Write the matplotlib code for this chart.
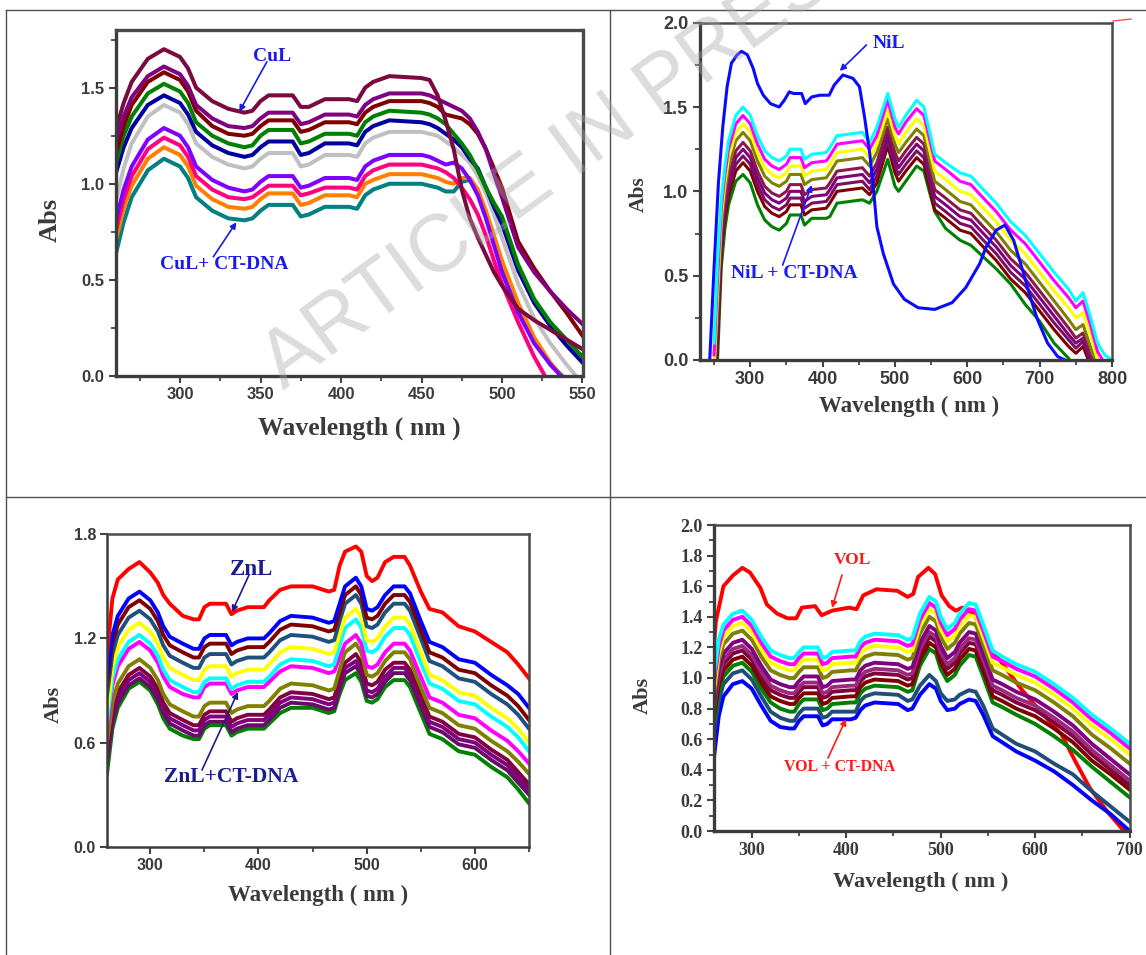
import matplotlib
matplotlib.use("Agg")
import matplotlib.pyplot as plt
from matplotlib.lines import Line2D
from matplotlib.ticker import MultipleLocator, FormatStrFormatter

W, H = 1146, 955
SERIF = ["Liberation Serif", "DejaVu Serif"]
SANS = ["Liberation Sans", "DejaVu Sans"]

# ---------------- CuL panel (top left) ----------------
wl_cu = [260, 265, 270, 280, 290, 300, 305, 310, 320, 330,
         340, 345, 350, 355, 370, 375, 380, 390, 405, 410,
         415, 420, 430, 450, 455, 460, 465, 470, 475, 480,
         485, 490, 495, 500, 510, 520, 530, 540, 550]
cu_free = [1.28, 1.42, 1.53, 1.65, 1.70, 1.66, 1.60, 1.50, 1.43, 1.39,
           1.37, 1.38, 1.43, 1.46, 1.46, 1.40, 1.40, 1.44, 1.44, 1.43,
           1.50, 1.53, 1.56, 1.55, 1.54, 1.46, 1.33, 1.18, 0.97, 0.82,
           0.72, 0.63, 0.54, 0.47, 0.35, 0.29, 0.24, 0.19, 0.14]
cu_purple = [1.22, 1.35, 1.45, 1.56, 1.61, 1.57, 1.51, 1.41, 1.34, 1.30,
             1.29, 1.30, 1.34, 1.37, 1.37, 1.31, 1.32, 1.36, 1.36, 1.35,
             1.41, 1.44, 1.47, 1.47, 1.46, 1.44, 1.42, 1.40, 1.38, 1.34,
             1.27, 1.18, 1.05, 0.93, 0.67, 0.54, 0.44, 0.35, 0.27]
cu_darkred = [1.15, 1.30, 1.41, 1.53, 1.58, 1.54, 1.48, 1.38, 1.30, 1.26,
              1.25, 1.26, 1.30, 1.33, 1.33, 1.27, 1.28, 1.32, 1.32, 1.31,
              1.37, 1.40, 1.43, 1.43, 1.42, 1.40, 1.36, 1.35, 1.34, 1.31,
              1.26, 1.18, 1.08, 0.98, 0.70, 0.56, 0.44, 0.33, 0.21]
cu_green = [1.10, 1.25, 1.35, 1.47, 1.52, 1.48, 1.42, 1.32, 1.25, 1.21,
            1.19, 1.20, 1.25, 1.28, 1.28, 1.21, 1.22, 1.26, 1.26, 1.25,
            1.32, 1.35, 1.38, 1.37, 1.36, 1.34, 1.31, 1.26, 1.21, 1.15,
            1.07, 0.98, 0.90, 0.83, 0.58, 0.40, 0.28, 0.19, 0.10]
cu_navy = [1.05, 1.19, 1.29, 1.41, 1.46, 1.42, 1.36, 1.27, 1.20, 1.16,
           1.14, 1.15, 1.19, 1.22, 1.22, 1.15, 1.16, 1.21, 1.21, 1.20,
           1.27, 1.30, 1.33, 1.32, 1.31, 1.29, 1.26, 1.23, 1.19, 1.13,
           1.08, 0.98, 0.88, 0.79, 0.55, 0.38, 0.26, 0.16, 0.07]
cu_gray = [0.90, 1.08, 1.21, 1.35, 1.41, 1.37, 1.31, 1.21, 1.14, 1.10,
           1.08, 1.09, 1.13, 1.16, 1.16, 1.09, 1.10, 1.15, 1.15, 1.14,
           1.21, 1.24, 1.27, 1.27, 1.26, 1.25, 1.22, 1.19, 1.15, 1.11,
           1.04, 0.95, 0.84, 0.72, 0.48, 0.30, 0.17, 0.06, -0.04]
cu_violet = [0.80, 0.97, 1.09, 1.23, 1.29, 1.25, 1.19, 1.09, 1.02, 0.98,
             0.96, 0.97, 1.01, 1.04, 1.04, 0.98, 0.99, 1.03, 1.03, 1.02,
             1.09, 1.12, 1.15, 1.15, 1.14, 1.12, 1.10, 1.11, 1.08, 1.02,
             0.94, 0.82, 0.68, 0.54, 0.33, 0.17, 0.06, -0.03, -0.12]
cu_pink = [0.75, 0.92, 1.04, 1.18, 1.24, 1.20, 1.14, 1.04, 0.97, 0.93,
           0.92, 0.93, 0.96, 0.99, 0.99, 0.94, 0.95, 0.98, 0.98, 0.97,
           1.04, 1.07, 1.10, 1.10, 1.09, 1.08, 1.06, 1.03, 0.98, 0.92,
           0.84, 0.73, 0.60, 0.48, 0.28, 0.10, -0.05, -0.15, -0.25]
cu_orange = [0.70, 0.87, 0.99, 1.13, 1.19, 1.15, 1.09, 0.99, 0.92, 0.88,
             0.87, 0.88, 0.92, 0.95, 0.95, 0.89, 0.90, 0.94, 0.94, 0.93,
             1.00, 1.02, 1.05, 1.05, 1.04, 1.03, 1.01, 1.00, 1.03, 1.03,
             0.97, 0.86, 0.73, 0.60, 0.38, 0.20, 0.07, -0.03, -0.12]
cu_teal = [0.63, 0.80, 0.93, 1.07, 1.13, 1.09, 1.03, 0.93, 0.86, 0.82,
           0.81, 0.82, 0.86, 0.89, 0.89, 0.83, 0.84, 0.88, 0.88, 0.87,
           0.94, 0.97, 1.00, 1.00, 0.99, 0.98, 0.96, 0.96, 1.01, 1.02,
           0.95, 0.84, 0.72, 0.59, 0.37, 0.19, 0.06, -0.02, -0.12]

# ---------------- NiL panel (top right) ----------------
wl_nil = [244, 250, 256, 262, 268, 274, 282, 288, 296, 304,
          310, 318, 328, 340, 347, 354, 360, 371, 376, 385,
          396, 409, 416, 428, 442, 451, 458, 465, 470, 475,
          484, 498, 513, 532, 555, 579, 598, 617, 626, 640,
          652, 664, 678, 688, 697, 711, 725, 735]
ni_free = [0.00, 0.55, 1.05, 1.38, 1.62, 1.76, 1.81, 1.83, 1.81, 1.73,
           1.64, 1.57, 1.52, 1.50, 1.54, 1.59, 1.58, 1.58, 1.52, 1.56,
           1.57, 1.57, 1.63, 1.69, 1.67, 1.62, 1.44, 1.23, 1.03, 0.79,
           0.63, 0.45, 0.36, 0.31, 0.30, 0.34, 0.43, 0.57, 0.67, 0.77,
           0.80, 0.71, 0.51, 0.36, 0.24, 0.10, 0.02, 0.00]
wl_ni = [250, 255, 260, 265, 270, 280, 290, 300, 310, 320,
         330, 340, 350, 355, 370, 375, 385, 405, 410, 420,
         455, 465, 475, 490, 500, 505, 515, 530, 540, 555,
         570, 590, 605, 620, 640, 660, 680, 700, 720, 740,
         750, 760, 770, 780, 790, 800]
ni_cyan = [0.10, 0.60, 0.95, 1.15, 1.30, 1.45, 1.50, 1.45, 1.33, 1.24,
           1.20, 1.18, 1.21, 1.25, 1.25, 1.19, 1.22, 1.23, 1.26, 1.33,
           1.35, 1.29, 1.38, 1.58, 1.43, 1.38, 1.45, 1.54, 1.50, 1.22,
           1.17, 1.11, 1.09, 1.02, 0.93, 0.82, 0.74, 0.63, 0.52, 0.42,
           0.35, 0.40, 0.26, 0.10, 0.03, 0.00]
ni_magenta = [0.03, 0.50, 0.90, 1.10, 1.25, 1.40, 1.45, 1.40, 1.28, 1.19,
              1.15, 1.13, 1.16, 1.20, 1.20, 1.14, 1.17, 1.18, 1.21, 1.28,
              1.30, 1.25, 1.33, 1.54, 1.38, 1.34, 1.41, 1.49, 1.45, 1.18,
              1.13, 1.06, 1.04, 0.97, 0.88, 0.77, 0.69, 0.58, 0.47, 0.37,
              0.31, 0.35, 0.21, 0.05, -0.02, -0.05]
ni_yellow = [-0.05, 0.42, 0.85, 1.05, 1.20, 1.35, 1.40, 1.35, 1.23, 1.14,
             1.10, 1.08, 1.11, 1.15, 1.15, 1.09, 1.12, 1.13, 1.16, 1.23,
             1.25, 1.20, 1.28, 1.48, 1.33, 1.28, 1.35, 1.43, 1.39, 1.12,
             1.07, 1.00, 0.98, 0.91, 0.82, 0.71, 0.63, 0.52, 0.41, 0.31,
             0.25, 0.28, 0.15, 0.00, -0.05, -0.10]
ni_olive = [-0.10, 0.35, 0.80, 1.00, 1.15, 1.30, 1.35, 1.30, 1.18, 1.09,
            1.05, 1.03, 1.06, 1.10, 1.10, 1.04, 1.07, 1.08, 1.11, 1.18,
            1.20, 1.15, 1.23, 1.43, 1.28, 1.23, 1.29, 1.37, 1.33, 1.06,
            1.01, 0.94, 0.92, 0.85, 0.76, 0.65, 0.57, 0.46, 0.35, 0.24,
            0.18, 0.21, 0.08, -0.03, -0.08, -0.12]
ni_maroon = [-0.15, 0.28, 0.75, 0.95, 1.09, 1.24, 1.29, 1.24, 1.12, 1.03,
             0.99, 0.97, 1.00, 1.04, 1.04, 0.98, 1.01, 1.02, 1.05, 1.12,
             1.14, 1.09, 1.17, 1.38, 1.23, 1.18, 1.24, 1.32, 1.28, 1.01,
             0.96, 0.89, 0.87, 0.80, 0.71, 0.60, 0.52, 0.41, 0.30, 0.19,
             0.13, 0.16, 0.03, -0.05, -0.10, -0.14]
ni_purple = [-0.20, 0.22, 0.72, 0.92, 1.05, 1.20, 1.25, 1.20, 1.08, 0.99,
             0.95, 0.93, 0.96, 1.00, 1.00, 0.94, 0.97, 0.98, 1.01, 1.08,
             1.10, 1.05, 1.13, 1.34, 1.19, 1.14, 1.20, 1.28, 1.24, 0.97,
             0.92, 0.85, 0.83, 0.76, 0.67, 0.56, 0.48, 0.37, 0.26, 0.15,
             0.10, 0.13, 0.01, -0.06, -0.11, -0.15]
ni_plum = [-0.25, 0.18, 0.68, 0.88, 1.01, 1.16, 1.21, 1.16, 1.04, 0.95,
           0.91, 0.89, 0.92, 0.96, 0.96, 0.90, 0.93, 0.94, 0.97, 1.04,
           1.06, 1.01, 1.09, 1.30, 1.15, 1.10, 1.16, 1.24, 1.20, 0.93,
           0.88, 0.81, 0.79, 0.72, 0.63, 0.52, 0.44, 0.33, 0.22, 0.12,
           0.07, 0.11, -0.01, -0.08, -0.12, -0.16]
ni_darkred = [-0.30, 0.12, 0.64, 0.84, 0.97, 1.12, 1.17, 1.12, 1.00, 0.91,
              0.87, 0.85, 0.88, 0.92, 0.92, 0.86, 0.89, 0.90, 0.93, 1.00,
              1.02, 0.98, 1.05, 1.27, 1.11, 1.06, 1.12, 1.20, 1.16, 0.89,
              0.84, 0.77, 0.75, 0.68, 0.59, 0.48, 0.40, 0.29, 0.18, 0.08,
              0.04, 0.08, -0.03, -0.10, -0.14, -0.18]
ni_green = [-0.40, 0.02, 0.55, 0.78, 0.92, 1.06, 1.10, 1.05, 0.92, 0.83,
            0.79, 0.77, 0.81, 0.86, 0.86, 0.80, 0.84, 0.84, 0.85, 0.93,
            0.95, 0.93, 1.00, 1.19, 1.03, 1.00, 1.06, 1.15, 1.12, 0.88,
            0.78, 0.71, 0.68, 0.62, 0.54, 0.45, 0.33, 0.23, 0.10, 0.01,
            -0.05, -0.08, -0.12, -0.15, -0.18, -0.20]

# ---------------- ZnL panel (bottom left) ----------------
wl_zn = [260, 265, 270, 280, 290, 300, 307, 312, 318, 330,
         340, 345, 350, 355, 370, 375, 380, 390, 405, 410,
         420, 430, 450, 465, 470, 475, 480, 490, 495, 500,
         505, 510, 517, 525, 535, 540, 550, 558, 570, 585,
         600, 615, 630, 640, 650]
zn_free = [1.10, 1.43, 1.54, 1.60, 1.64, 1.58, 1.52, 1.45, 1.40, 1.33,
           1.31, 1.31, 1.38, 1.40, 1.40, 1.34, 1.36, 1.38, 1.38, 1.42,
           1.48, 1.50, 1.50, 1.47, 1.48, 1.62, 1.70, 1.73, 1.70, 1.56,
           1.53, 1.55, 1.64, 1.67, 1.67, 1.62, 1.47, 1.37, 1.35, 1.27,
           1.24, 1.18, 1.12, 1.05, 0.97]
zn_blue = [0.98, 1.22, 1.33, 1.43, 1.47, 1.42, 1.35, 1.27, 1.21, 1.17,
           1.14, 1.14, 1.20, 1.22, 1.22, 1.16, 1.18, 1.20, 1.20, 1.23,
           1.30, 1.33, 1.32, 1.29, 1.30, 1.40, 1.50, 1.55, 1.50, 1.37,
           1.36, 1.38, 1.45, 1.50, 1.50, 1.46, 1.30, 1.18, 1.15, 1.08,
           1.06, 0.99, 0.93, 0.88, 0.80]
zn_darkred = [0.93, 1.17, 1.28, 1.38, 1.42, 1.37, 1.30, 1.22, 1.16, 1.12,
              1.09, 1.09, 1.15, 1.17, 1.17, 1.11, 1.13, 1.15, 1.15, 1.18,
              1.25, 1.28, 1.27, 1.24, 1.25, 1.35, 1.45, 1.50, 1.45, 1.32,
              1.31, 1.33, 1.40, 1.45, 1.45, 1.41, 1.25, 1.12, 1.09, 1.02,
              1.00, 0.93, 0.87, 0.81, 0.73]
zn_steel = [0.87, 1.11, 1.22, 1.32, 1.36, 1.31, 1.24, 1.16, 1.10, 1.06,
            1.03, 1.03, 1.09, 1.11, 1.11, 1.05, 1.07, 1.09, 1.09, 1.12,
            1.19, 1.22, 1.21, 1.18, 1.19, 1.30, 1.40, 1.45, 1.40, 1.27,
            1.26, 1.28, 1.35, 1.40, 1.40, 1.36, 1.20, 1.07, 1.04, 0.97,
            0.95, 0.88, 0.82, 0.76, 0.68]
zn_yellow = [0.78, 1.03, 1.15, 1.25, 1.29, 1.24, 1.17, 1.09, 1.03, 0.99,
             0.96, 0.96, 1.02, 1.04, 1.04, 0.98, 1.00, 1.02, 1.02, 1.05,
             1.12, 1.15, 1.14, 1.11, 1.12, 1.22, 1.32, 1.37, 1.32, 1.19,
             1.18, 1.20, 1.27, 1.32, 1.32, 1.28, 1.12, 0.99, 0.96, 0.89,
             0.87, 0.80, 0.74, 0.68, 0.60]
zn_cyan = [0.72, 0.97, 1.08, 1.18, 1.22, 1.17, 1.10, 1.02, 0.96, 0.92,
           0.89, 0.89, 0.95, 0.97, 0.97, 0.91, 0.93, 0.95, 0.95, 0.98,
           1.05, 1.08, 1.07, 1.04, 1.05, 1.16, 1.26, 1.31, 1.26, 1.13,
           1.12, 1.14, 1.21, 1.26, 1.26, 1.22, 1.06, 0.94, 0.91, 0.84,
           0.82, 0.75, 0.69, 0.63, 0.55]
zn_magenta = [0.68, 0.93, 1.04, 1.14, 1.18, 1.13, 1.06, 0.98, 0.92, 0.88,
              0.86, 0.86, 0.92, 0.94, 0.94, 0.88, 0.90, 0.92, 0.92, 0.95,
              1.01, 1.04, 1.03, 1.00, 1.01, 1.09, 1.17, 1.22, 1.17, 1.04,
              1.03, 1.05, 1.12, 1.17, 1.17, 1.13, 0.98, 0.86, 0.83, 0.76,
              0.74, 0.67, 0.61, 0.55, 0.48]
zn_olive = [0.60, 0.83, 0.94, 1.04, 1.08, 1.03, 0.96, 0.88, 0.82, 0.78,
            0.75, 0.75, 0.81, 0.83, 0.83, 0.77, 0.79, 0.81, 0.81, 0.84,
            0.91, 0.94, 0.93, 0.90, 0.91, 1.02, 1.12, 1.17, 1.12, 0.99,
            0.98, 1.00, 1.07, 1.12, 1.12, 1.08, 0.92, 0.80, 0.77, 0.70,
            0.68, 0.61, 0.55, 0.49, 0.42]
zn_maroon = [0.55, 0.78, 0.89, 0.99, 1.03, 0.98, 0.91, 0.83, 0.77, 0.73,
             0.70, 0.70, 0.76, 0.78, 0.78, 0.72, 0.74, 0.76, 0.76, 0.79,
             0.86, 0.89, 0.88, 0.85, 0.86, 0.97, 1.06, 1.11, 1.06, 0.94,
             0.93, 0.95, 1.02, 1.06, 1.06, 1.02, 0.87, 0.75, 0.72, 0.65,
             0.63, 0.56, 0.50, 0.43, 0.36]
zn_purple = [0.52, 0.75, 0.86, 0.96, 1.00, 0.95, 0.88, 0.80, 0.74, 0.70,
             0.67, 0.67, 0.73, 0.75, 0.75, 0.69, 0.71, 0.73, 0.73, 0.76,
             0.83, 0.86, 0.85, 0.82, 0.83, 0.94, 1.03, 1.07, 1.02, 0.90,
             0.89, 0.91, 0.98, 1.03, 1.03, 0.99, 0.84, 0.72, 0.69, 0.62,
             0.60, 0.53, 0.47, 0.40, 0.33]
zn_plum = [0.49, 0.72, 0.83, 0.93, 0.97, 0.92, 0.85, 0.77, 0.71, 0.67,
           0.64, 0.64, 0.70, 0.72, 0.72, 0.66, 0.68, 0.70, 0.70, 0.73,
           0.80, 0.83, 0.82, 0.79, 0.80, 0.91, 1.00, 1.04, 0.99, 0.87,
           0.86, 0.88, 0.95, 1.00, 1.00, 0.96, 0.81, 0.69, 0.66, 0.59,
           0.57, 0.50, 0.44, 0.37, 0.30]
zn_green = [0.42, 0.68, 0.80, 0.91, 0.95, 0.90, 0.82, 0.74, 0.68, 0.64,
            0.62, 0.62, 0.68, 0.70, 0.70, 0.64, 0.66, 0.68, 0.68, 0.71,
            0.77, 0.80, 0.80, 0.77, 0.78, 0.88, 0.96, 1.00, 0.95, 0.84,
            0.83, 0.85, 0.92, 0.96, 0.96, 0.92, 0.77, 0.65, 0.62, 0.55,
            0.53, 0.46, 0.40, 0.33, 0.25]

# ---------------- VOL panel (bottom right) ----------------
wl_vol = [260, 262, 270, 280, 290, 298, 309, 316, 327, 338,
          347, 353, 367, 374, 385, 403, 411, 418, 432, 454,
          465, 471, 476, 487, 494, 501, 509, 516, 523, 535,
          550, 567, 585, 603, 628, 643, 658, 676, 694, 700]
vo_free = [1.22, 1.37, 1.60, 1.67, 1.72, 1.69, 1.59, 1.48, 1.42, 1.39,
           1.39, 1.46, 1.47, 1.41, 1.44, 1.46, 1.45, 1.54, 1.58, 1.57,
           1.53, 1.55, 1.66, 1.72, 1.68, 1.54, 1.47, 1.44, 1.46, 1.42,
           1.22, 1.08, 0.93, 0.80, 0.63, 0.45, 0.28, 0.13, 0.00, -0.05]
wl_vo = [260, 265, 270, 280, 290, 300, 310, 320, 330, 340,
         345, 350, 355, 370, 375, 380, 385, 405, 410, 415,
         420, 430, 455, 465, 470, 478, 488, 495, 500, 507,
         515, 520, 530, 537, 545, 555, 565, 580, 600, 620,
         640, 660, 680, 700]
vo_cyan = [1.02, 1.25, 1.35, 1.42, 1.44, 1.38, 1.27, 1.18, 1.15, 1.13,
           1.13, 1.17, 1.20, 1.20, 1.13, 1.14, 1.17, 1.18, 1.18, 1.24,
           1.27, 1.29, 1.28, 1.25, 1.26, 1.42, 1.53, 1.50, 1.40, 1.32,
           1.36, 1.42, 1.49, 1.48, 1.35, 1.18, 1.14, 1.09, 1.04, 0.96,
           0.87, 0.76, 0.67, 0.57]
vo_magenta = [0.97, 1.20, 1.31, 1.38, 1.40, 1.34, 1.23, 1.14, 1.11, 1.09,
              1.09, 1.13, 1.16, 1.16, 1.09, 1.10, 1.13, 1.14, 1.14, 1.20,
              1.23, 1.25, 1.24, 1.21, 1.22, 1.38, 1.49, 1.46, 1.36, 1.28,
              1.32, 1.38, 1.45, 1.44, 1.31, 1.14, 1.11, 1.06, 1.01, 0.93,
              0.84, 0.73, 0.64, 0.54]
vo_yellow = [0.92, 1.16, 1.27, 1.34, 1.36, 1.30, 1.19, 1.10, 1.07, 1.05,
             1.05, 1.09, 1.12, 1.12, 1.05, 1.06, 1.09, 1.10, 1.10, 1.16,
             1.19, 1.21, 1.20, 1.17, 1.18, 1.34, 1.45, 1.42, 1.32, 1.24,
             1.28, 1.34, 1.41, 1.40, 1.27, 1.10, 1.07, 1.02, 0.97, 0.89,
             0.80, 0.69, 0.60, 0.50]
vo_olive = [0.88, 1.11, 1.22, 1.29, 1.31, 1.25, 1.14, 1.05, 1.02, 1.00,
            1.00, 1.04, 1.07, 1.07, 1.00, 1.01, 1.04, 1.05, 1.05, 1.11,
            1.14, 1.16, 1.15, 1.12, 1.13, 1.29, 1.40, 1.37, 1.27, 1.19,
            1.23, 1.29, 1.36, 1.35, 1.22, 1.05, 1.02, 0.97, 0.92, 0.84,
            0.75, 0.63, 0.54, 0.44]
vo_purple = [0.83, 1.05, 1.16, 1.23, 1.25, 1.19, 1.08, 0.99, 0.96, 0.94,
             0.94, 0.98, 1.01, 1.01, 0.94, 0.95, 0.98, 0.99, 0.99, 1.05,
             1.08, 1.10, 1.09, 1.06, 1.07, 1.23, 1.34, 1.31, 1.21, 1.13,
             1.17, 1.23, 1.30, 1.29, 1.16, 0.99, 0.96, 0.91, 0.86, 0.78,
             0.69, 0.57, 0.47, 0.37]
vo_plum = [0.80, 1.01, 1.12, 1.19, 1.21, 1.15, 1.04, 0.95, 0.92, 0.90,
           0.90, 0.94, 0.97, 0.97, 0.90, 0.91, 0.94, 0.95, 0.95, 1.01,
           1.04, 1.06, 1.05, 1.02, 1.03, 1.19, 1.30, 1.27, 1.17, 1.09,
           1.13, 1.19, 1.26, 1.25, 1.12, 0.95, 0.92, 0.87, 0.82, 0.74,
           0.65, 0.53, 0.43, 0.33]
vo_maroon = [0.78, 0.98, 1.09, 1.16, 1.18, 1.12, 1.01, 0.92, 0.89, 0.87,
             0.87, 0.91, 0.94, 0.94, 0.87, 0.88, 0.91, 0.92, 0.92, 0.98,
             1.01, 1.03, 1.02, 0.99, 1.00, 1.16, 1.27, 1.24, 1.14, 1.06,
             1.10, 1.16, 1.23, 1.22, 1.09, 0.92, 0.89, 0.84, 0.79, 0.71,
             0.62, 0.50, 0.40, 0.30]
vo_darkred = [0.75, 0.95, 1.05, 1.12, 1.14, 1.08, 0.97, 0.88, 0.85, 0.83,
              0.83, 0.87, 0.90, 0.90, 0.83, 0.84, 0.87, 0.88, 0.88, 0.94,
              0.97, 0.99, 0.98, 0.95, 0.96, 1.12, 1.23, 1.20, 1.10, 1.02,
              1.06, 1.12, 1.19, 1.18, 1.05, 0.88, 0.85, 0.80, 0.75, 0.67,
              0.58, 0.46, 0.37, 0.27]
vo_green = [0.70, 0.90, 1.01, 1.08, 1.10, 1.04, 0.93, 0.84, 0.80, 0.78,
            0.78, 0.83, 0.86, 0.86, 0.79, 0.80, 0.83, 0.84, 0.84, 0.90,
            0.93, 0.95, 0.94, 0.91, 0.92, 1.08, 1.19, 1.16, 1.06, 0.98,
            1.02, 1.08, 1.15, 1.14, 1.01, 0.84, 0.81, 0.76, 0.70, 0.62,
            0.53, 0.42, 0.32, 0.22]
vo_steel = [0.65, 0.85, 0.96, 1.03, 1.05, 0.99, 0.88, 0.78, 0.74, 0.72,
            0.72, 0.77, 0.80, 0.80, 0.74, 0.75, 0.78, 0.78, 0.78, 0.85,
            0.88, 0.90, 0.89, 0.85, 0.86, 0.95, 1.02, 0.98, 0.90, 0.85,
            0.86, 0.89, 0.92, 0.91, 0.82, 0.67, 0.63, 0.57, 0.52, 0.44,
            0.37, 0.26, 0.16, 0.06]
vo_blue = [0.48, 0.75, 0.88, 0.96, 0.98, 0.93, 0.82, 0.72, 0.68, 0.67,
           0.67, 0.72, 0.75, 0.75, 0.69, 0.70, 0.73, 0.73, 0.74, 0.79,
           0.82, 0.84, 0.83, 0.79, 0.80, 0.89, 0.96, 0.93, 0.85, 0.79,
           0.80, 0.83, 0.86, 0.85, 0.76, 0.62, 0.58, 0.52, 0.46, 0.39,
           0.30, 0.20, 0.11, 0.00]


def px_axes(fig, left, top, right, bottom):
    """Add axes from a pixel box measured from the top-left corner."""
    return fig.add_axes([left / W, 1 - bottom / H, (right - left) / W, (bottom - top) / H])


def style_axes(ax, xlim, ylim, xmaj, xmin, ymaj, ymin, tick_family, tick_size,
               lw_main=2.2, lw_far=2.2):
    ax.set_xlim(*xlim)
    ax.set_ylim(*ylim)
    ax.xaxis.set_major_locator(MultipleLocator(xmaj))
    ax.xaxis.set_minor_locator(MultipleLocator(xmin))
    ax.yaxis.set_major_locator(MultipleLocator(ymaj))
    if ymin:
        ax.yaxis.set_minor_locator(MultipleLocator(ymin))
    ax.yaxis.set_major_formatter(FormatStrFormatter("%.1f"))
    ax.tick_params(which="major", direction="out", length=5, width=1.5, color="#444444",
                   labelsize=tick_size, labelcolor="#3a3a3a", pad=3)
    ax.tick_params(which="minor", direction="out", length=3.5, width=1.3, color="#444444")
    for lab in ax.get_xticklabels() + ax.get_yticklabels():
        lab.set_family(tick_family)
        lab.set_fontweight("bold")
    for side in ("left", "bottom"):
        ax.spines[side].set_linewidth(lw_main)
        ax.spines[side].set_color("#3c3c3c")
    for side in ("top", "right"):
        ax.spines[side].set_linewidth(lw_far)
        ax.spines[side].set_color("#4a4a4a")


def axis_labels(ax, size_x, size_y, xpos, ypos):
    ax.set_xlabel("Wavelength ( nm )", family=SERIF, fontweight="bold", fontsize=size_x,
                  color="#3a3a3a", va="center")
    ax.set_ylabel("Abs", family=SERIF, fontweight="bold", fontsize=size_y,
                  color="#3a3a3a", va="center")
    ax.xaxis.set_label_coords(*xpos)
    ax.yaxis.set_label_coords(*ypos)


def note(ax, text, xy, start, tip, color, size):
    ax.text(xy[0], xy[1], text, family=SERIF, fontweight="bold", fontsize=size,
            color=color, ha="center", va="center")
    ax.annotate("", xy=tip, xytext=start,
                arrowprops=dict(arrowstyle="-|>", color=color, lw=1.2, mutation_scale=9,
                                shrinkA=0, shrinkB=0))


fig = plt.figure(figsize=(W / 100, H / 100), dpi=100)

# table frame of the page
for (x0, y0, x1, y1) in [(6, 10, W, 10), (6, 10, 6, H), (610, 10, 610, H), (6, 497, W, 497)]:
    fig.add_artist(Line2D([x0 / W, x1 / W], [1 - y0 / H, 1 - y1 / H], color="#505050", lw=1.0,
                          transform=fig.transFigure))

# CuL
ax1 = px_axes(fig, 115.6, 30, 582.5, 376)
cu_lines = [(cu_teal, "#008080"), (cu_orange, "#ff8000"), (cu_pink, "#ff0080"),
            (cu_violet, "#8000ff"), (cu_gray, "#c0c0c0"), (cu_navy, "#0000a0"),
            (cu_green, "#008000"), (cu_darkred, "#800000"), (cu_purple, "#800080"),
            (cu_free, "#7a0a40")]
for ys, c in cu_lines:
    ax1.plot(wl_cu, ys, color=c, lw=2.9, solid_joinstyle="round")
style_axes(ax1, (260, 550), (0, 1.8), 50, 25, 0.5, 0.25, SANS, 12, 2.4, 2.4)
axis_labels(ax1, 18.5, 19, (0.521, -0.150), (-0.139, 0.451))
note(ax1, "CuL", (357, 1.66), (354, 1.635), (336.8, 1.375), "#1a1ae6", 14)
note(ax1, "CuL+ CT-DNA", (327.5, 0.578), (320.7, 0.62), (335, 0.80), "#1a1ae6", 14)

# NiL
ax2 = px_axes(fig, 699.6, 22.7, 1112, 360)
ni_lines = [(ni_green, "#008000"), (ni_darkred, "#800000"), (ni_plum, "#7a1060"),
            (ni_purple, "#800080"), (ni_maroon, "#8b1a4a"), (ni_olive, "#808000"),
            (ni_yellow, "#ffff00"), (ni_magenta, "#ff00ff"), (ni_cyan, "#00ffff")]
for ys, c in ni_lines:
    ax2.plot(wl_ni, ys, color=c, lw=2.2)
ax2.plot(wl_nil, ni_free, color="#0a0aff", lw=2.2)
style_axes(ax2, (230, 800), (0, 2.0), 100, 50, 0.5, 0.25, SANS, 13, 2.4, 1.8)
axis_labels(ax2, 16.5, 15.5, (0.508, -0.139), (-0.147, 0.492))
note(ax2, "NiL", (491.9, 1.874), (460.6, 1.868), (423.7, 1.714), "#1a1aff", 14)
note(ax2, "NiL + CT-DNA", (361.2, 0.51), (344.8, 0.563), (385, 1.038), "#1a1aff", 14)
fig.add_artist(Line2D([1113 / W, 1131 / W], [1 - 21 / H, 1 - 19 / H], color="#ff5050", lw=1.0,
                      transform=fig.transFigure))

# ZnL
ax3 = px_axes(fig, 107, 534.3, 529, 846.7)
zn_lines = [(zn_green, "#008000"), (zn_plum, "#6a0a6a"), (zn_purple, "#800080"),
            (zn_maroon, "#800040"), (zn_olive, "#808000"), (zn_magenta, "#ff00ff"),
            (zn_cyan, "#00ffff"), (zn_yellow, "#ffff00"), (zn_steel, "#1f5080"),
            (zn_darkred, "#800000"), (zn_blue, "#0000ff"), (zn_free, "#ff0000")]
for ys, c in zn_lines:
    ax3.plot(wl_zn, ys, color=c, lw=2.8)
style_axes(ax3, (260, 650), (0, 1.8), 100, 50, 0.6, None, SANS, 11.5, 1.8, 1.8)
axis_labels(ax3, 16.5, 16, (0.5, -0.155), (-0.127, 0.454))
note(ax3, "ZnL", (393.7, 1.597), (391.2, 1.565), (375.5, 1.352), "#1c1c8c", 16.5)
note(ax3, "ZnL+CT-DNA", (375, 0.399), (347.8, 0.442), (381, 0.891), "#1c1c8c", 15.5)

# VOL
ax4 = px_axes(fig, 714, 525, 1129.6, 831)
vo_lines = [(vo_blue, "#0000ff"), (vo_steel, "#1f4e79"), (vo_green, "#008000"),
            (vo_darkred, "#800000"), (vo_maroon, "#800040"), (vo_plum, "#9a2a7a"),
            (vo_purple, "#800080"), (vo_olive, "#808000"), (vo_yellow, "#ffff00"),
            (vo_magenta, "#ff00ff"), (vo_cyan, "#00ffff")]
ax4.plot(wl_vol, vo_free, color="#ff0000", lw=2.8)
for ys, c in vo_lines:
    ax4.plot(wl_vo, ys, color=c, lw=2.8)
style_axes(ax4, (260, 700), (0, 2.0), 100, 50, 0.2, 0.1, SERIF, 13, 2.4, 1.8)
axis_labels(ax4, 16, 16, (0.498, -0.167), (-0.172, 0.444))
note(ax4, "VOL", (406.9, 1.771), (395.5, 1.673), (385, 1.458), "#ff1a1a", 12.5)
note(ax4, "VOL + CT-DNA", (393.4, 0.42), (380.7, 0.477), (399.8, 0.732), "#ff1a1a", 11.5)

# watermark
fig.text(283 / W, 1 - 390 / H, "ARTICLE IN PRESS", family=SANS, fontsize=58, color="#a8a8a8",
         alpha=0.4, rotation=36, rotation_mode="anchor", ha="left", va="baseline", zorder=10)

fig.savefig("out.png", dpi=100)
